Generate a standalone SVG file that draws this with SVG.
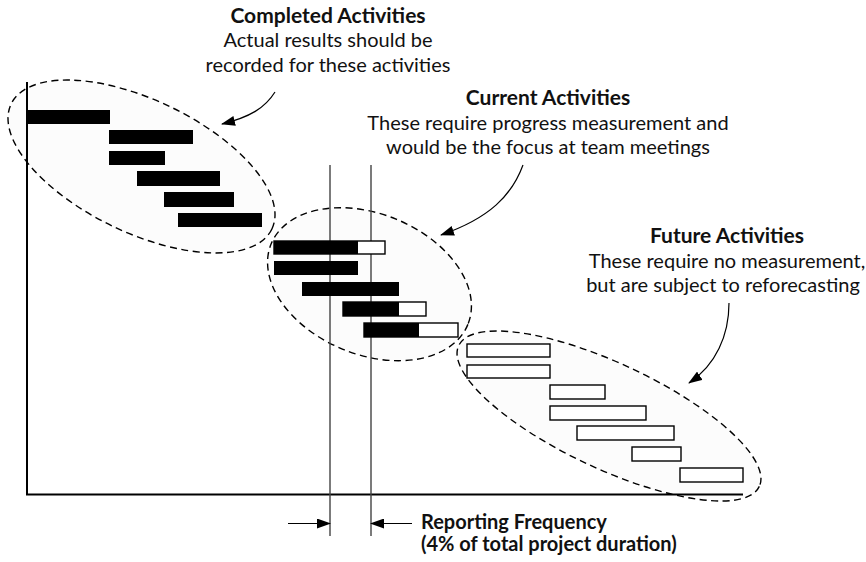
<svg xmlns="http://www.w3.org/2000/svg" width="866" height="562" viewBox="0 0 866 562">
<style>
.zone{fill:#fcfcfc;stroke:#000;stroke-width:1.4;stroke-dasharray:7 4.5}
.done{fill:#000}
.open{fill:#fff;stroke:#000;stroke-width:1.4}
.axis{stroke:#000;stroke-width:2;fill:none}
.rep{stroke:#444;stroke-width:1.4;fill:none}
.conn{stroke:#000;stroke-width:1.2;fill:none}
.t{font-family:Lato,"Open Sans","DejaVu Sans",sans-serif;font-size:20px;fill:#111;text-anchor:middle}
.b{font-weight:bold;font-size:21px}
.s{text-anchor:start;font-size:20px}
</style>
<defs>
<marker id="ah" markerWidth="14" markerHeight="10" refX="13" refY="5" orient="auto" markerUnits="userSpaceOnUse">
<path d="M0,0 L14,5 L0,10 Z" fill="#000"/>
</marker>
</defs>
<rect width="866" height="562" fill="#fff"/>

<g id="zones">
<ellipse class="zone" cx="141.5" cy="166.5" rx="144.6" ry="66.3" transform="rotate(25.6 141.5 166.5)"/>
<ellipse class="zone" cx="369.5" cy="284.2" rx="106.3" ry="70.3" transform="rotate(22.2 369.5 284.2)"/>
<ellipse class="zone" cx="609" cy="416" rx="166" ry="52.6" transform="rotate(25.1 609 416)"/>
</g>

<g id="axes">
<path class="axis" d="M27,82 V494.5 H743"/>
</g>

<g id="reporting-lines">
<path class="rep" d="M330,165 V536 M371,165 V536"/>
</g>

<g id="completed">
<rect class="done" x="27" y="110" width="83" height="14"/>
<rect class="done" x="109" y="130" width="84" height="14"/>
<rect class="done" x="109" y="151" width="56" height="14"/>
<rect class="done" x="137" y="171" width="83" height="15"/>
<rect class="done" x="164" y="192" width="70" height="15"/>
<rect class="done" x="178" y="213" width="84" height="14"/>
<text class="t b" x="328" y="22.5">Completed Activities</text>
<text class="t" x="328" y="47">Actual results should be</text>
<text class="t" x="328" y="71.5">recorded for these activities</text>
</g>

<g id="current">
<rect class="open" x="274" y="241" width="111" height="13"/>
<rect class="done" x="274" y="241" width="84" height="13"/>
<rect class="done" x="274" y="261" width="84" height="14"/>
<rect class="done" x="302" y="282" width="97" height="14"/>
<rect class="open" x="343" y="302" width="83" height="14"/>
<rect class="done" x="343" y="302" width="56" height="14"/>
<rect class="open" x="364" y="323" width="94" height="14"/>
<rect class="done" x="364" y="323" width="55" height="14"/>
<text class="t b" x="548" y="105">Current Activities</text>
<text class="t" x="548" y="130">These require progress measurement and</text>
<text class="t" x="548" y="154">would be the focus at team meetings</text>
</g>

<g id="future">
<rect class="open" x="467" y="344" width="83" height="13"/>
<rect class="open" x="467" y="365" width="83" height="13"/>
<rect class="open" x="550" y="385" width="55" height="14"/>
<rect class="open" x="550" y="406" width="96" height="14"/>
<rect class="open" x="577" y="426" width="97" height="14"/>
<rect class="open" x="632" y="447" width="49" height="14"/>
<rect class="open" x="680" y="468" width="63" height="14"/>
<text class="t b" x="727" y="243">Future Activities</text>
<text class="t" x="727" y="268">These require no measurement,</text>
<text class="t" x="723" y="292">but are subject to reforecasting</text>
</g>

<g id="reporting">
<text class="t b s" x="421" y="529">Reporting Frequency</text>
<text class="t b s" x="421" y="551">(4% of total project duration)</text>
</g>

<g id="connectors">
<path class="conn" d="M275,92 C265,108 250,117 222,124" marker-end="url(#ah)"/>
<path class="conn" d="M523,165 C512,195 490,218 441,235" marker-end="url(#ah)"/>
<path class="conn" d="M729,303 C729,335 716,365 689,383" marker-end="url(#ah)"/>
<path class="conn" d="M288,523.5 H330" marker-end="url(#ah)"/>
<path class="conn" d="M412,523.5 H371" marker-end="url(#ah)"/>
</g>
</svg>
